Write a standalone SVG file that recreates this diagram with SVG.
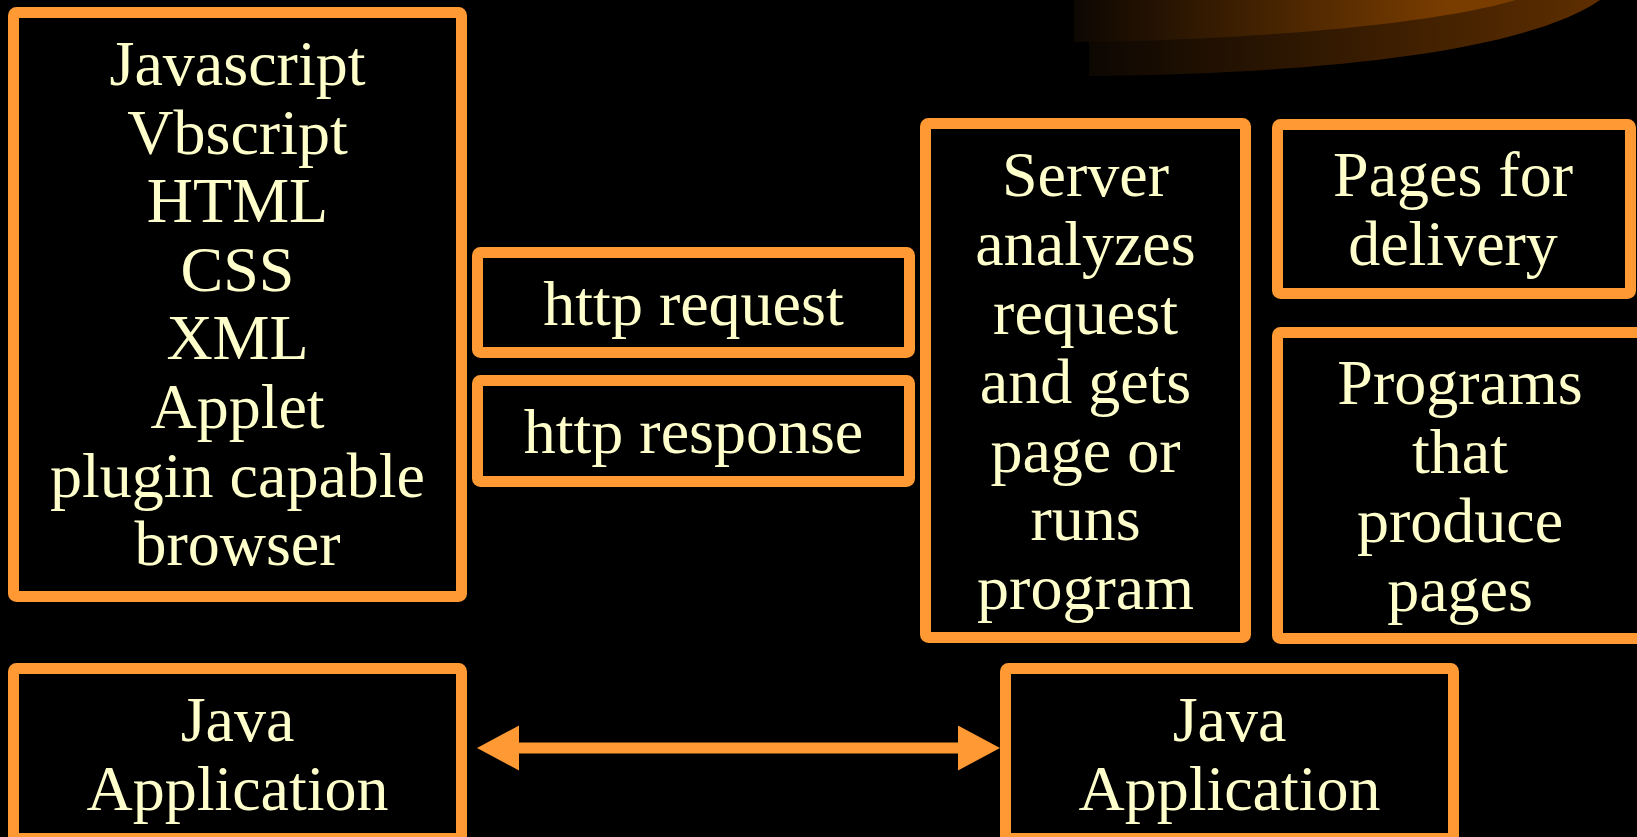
<svg xmlns="http://www.w3.org/2000/svg" width="1637" height="837" viewBox="0 0 1637 837">
<defs>
<style>
.box{fill:#000;stroke:#FF9933;stroke-width:11;}
.t{font-family:"Liberation Serif","Times New Roman",serif;font-size:64px;fill:#FFFFCC;text-anchor:middle;}
.conn{stroke:#FF9933;stroke-width:11;fill:none;}
</style>
<linearGradient id="gUp" x1="1074" y1="0" x2="1516" y2="0" gradientUnits="userSpaceOnUse">
<stop offset="0" stop-color="#0d0702"/>
<stop offset="0.85" stop-color="#7a3d00"/>
<stop offset="1" stop-color="#7a3d00"/>
</linearGradient>
<linearGradient id="gLow" x1="1089" y1="0" x2="1600" y2="0" gradientUnits="userSpaceOnUse">
<stop offset="0" stop-color="#0d0702"/>
<stop offset="1" stop-color="#5e2e00"/>
</linearGradient>
<marker id="ah" markerUnits="userSpaceOnUse" markerWidth="44" markerHeight="46" refX="0" refY="22.5" orient="auto-start-reverse" viewBox="0 0 44 46">
<path d="M0,0 L42,22.5 L0,45 Z" fill="#FF9933"/>
</marker>
</defs>
<rect width="1637" height="837" fill="#000"/>
<g id="swoosh">
<path d="M1089,0 L1089,76 C1300,74 1520,55 1600,0 Z" fill="url(#gLow)"/>
<path d="M1074,0 L1074,42 C1250,40 1430,25 1516,0 Z" fill="url(#gUp)"/>
</g>
<g id="client">
<rect class="box" x="13.5" y="12.5" width="448" height="584" rx="3"/>
<text class="t" x="237.5" y="85">Javascript</text>
<text class="t" x="237.5" y="153.6">Vbscript</text>
<text class="t" x="237.5" y="222.2">HTML</text>
<text class="t" x="237.5" y="290.8">CSS</text>
<text class="t" x="237.5" y="359.4">XML</text>
<text class="t" x="237.5" y="428">Applet</text>
<text class="t" x="237.5" y="496.6">plugin capable</text>
<text class="t" x="237.5" y="565.2">browser</text>
</g>
<g id="http-request">
<rect class="box" x="477.5" y="252.5" width="432" height="100" rx="3"/>
<text class="t" x="693.5" y="325">http request</text>
</g>
<g id="http-response">
<rect class="box" x="477.5" y="380.5" width="432" height="101" rx="3"/>
<text class="t" x="693.5" y="453">http response</text>
</g>
<g id="server">
<rect class="box" x="925.5" y="123.5" width="320" height="514" rx="3"/>
<text class="t" x="1085.5" y="196">Server</text>
<text class="t" x="1085.5" y="265">analyzes</text>
<text class="t" x="1085.5" y="334">request</text>
<text class="t" x="1085.5" y="403">and gets</text>
<text class="t" x="1085.5" y="472">page or</text>
<text class="t" x="1085.5" y="540">runs</text>
<text class="t" x="1085.5" y="609">program</text>
</g>
<g id="pages">
<rect class="box" x="1277.5" y="124.5" width="353" height="169" rx="3"/>
<text class="t" x="1453" y="196">Pages for</text>
<text class="t" x="1453" y="265">delivery</text>
</g>
<g id="programs">
<rect class="box" x="1277.5" y="332.5" width="365" height="306" rx="3"/>
<text class="t" x="1460" y="404">Programs</text>
<text class="t" x="1460" y="473">that</text>
<text class="t" x="1460" y="542">produce</text>
<text class="t" x="1460" y="611">pages</text>
</g>
<g id="java-left">
<rect class="box" x="13.5" y="668.5" width="448" height="170" rx="3"/>
<text class="t" x="237.5" y="741">Java</text>
<text class="t" x="237.5" y="810">Application</text>
</g>
<g id="java-right">
<rect class="box" x="1005.5" y="668.5" width="448" height="170" rx="3"/>
<text class="t" x="1229.5" y="741">Java</text>
<text class="t" x="1229.5" y="810">Application</text>
</g>
<g id="connectors">
<line class="conn" x1="519" y1="748" x2="958" y2="748" marker-start="url(#ah)" marker-end="url(#ah)"/>
</g>
</svg>
